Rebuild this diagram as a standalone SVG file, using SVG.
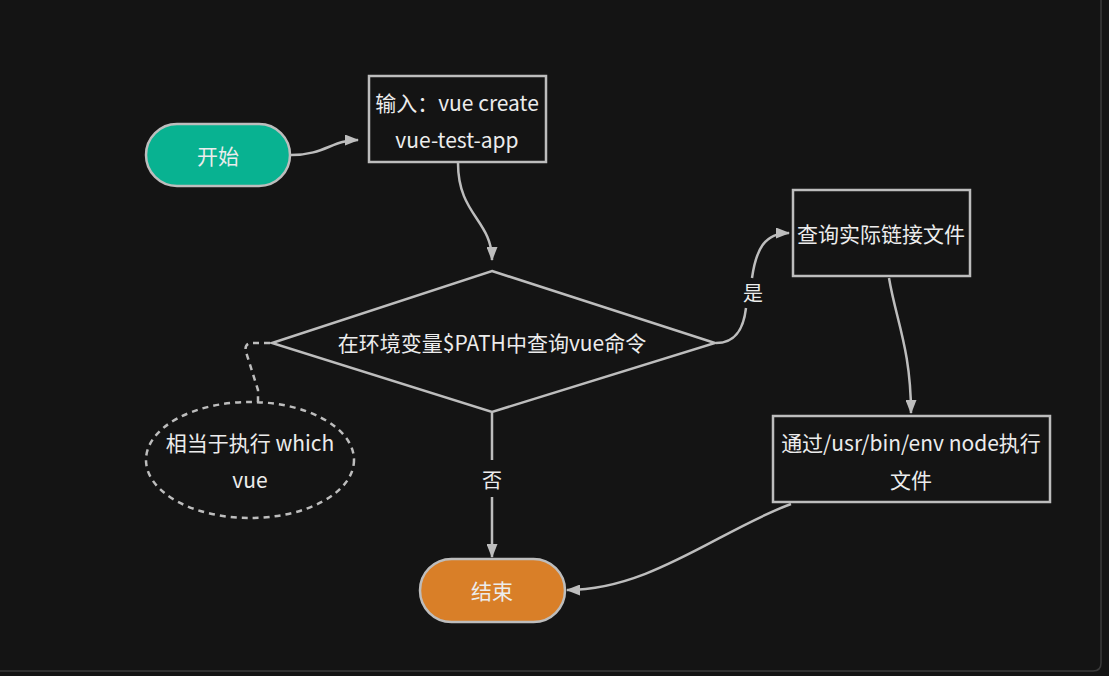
<svg xmlns="http://www.w3.org/2000/svg" width="1109" height="676" viewBox="0 0 1109 676">
<defs>
<style>
.bg{fill:#141414}
.frame{fill:none;stroke:#3a3a3a;stroke-width:1.5}
.box{fill:#141414;stroke:#bdbdbd;stroke-width:2.5}
.t{font-family:"Microsoft YaHei","Noto Sans CJK SC","Noto Sans",sans-serif;font-size:21px;fill:#ececec;text-anchor:middle;dominant-baseline:central}
.edge{fill:none;stroke:#bdbdbd;stroke-width:2.5}
.dash{fill:none;stroke:#bdbdbd;stroke-width:2.5;stroke-dasharray:6 5}
.lbl{font-family:"Microsoft YaHei","Noto Sans CJK SC","Noto Sans",sans-serif;font-size:20px;fill:#ececec;text-anchor:middle;dominant-baseline:central}
</style>
<marker id="arr" viewBox="0 0 14 11" refX="13" refY="5.5" markerWidth="14" markerHeight="11" markerUnits="userSpaceOnUse" orient="auto">
<path d="M0,0 L14,5.5 L0,11 Z" fill="#bdbdbd"/>
</marker>
</defs>
<rect class="bg" x="0" y="0" width="1109" height="676"/>
<path class="frame" d="M1101,0 V663 Q1101,671 1093,671 H0"/>

<g id="connectors">
<path class="edge" d="M291,155 C325,155 332,140 358,140" marker-end="url(#arr)"/>
<path class="edge" d="M458,163 C458,215 492,220 492,260" marker-end="url(#arr)"/>
<path class="edge" d="M716,343 C738,343 744,325 746,308"/>
<path class="edge" d="M752,278 C756,250 764,233 789,233" marker-end="url(#arr)"/>
<text class="lbl" x="753" y="292">是</text>
<path class="edge" d="M492,413 V460"/>
<path class="edge" d="M492,497 V557" marker-end="url(#arr)"/>
<text class="lbl" x="492" y="479">否</text>
<path class="edge" d="M889,278 C896,320 911,350 911,413" marker-end="url(#arr)"/>
<path class="edge" d="M791,504 C720,530 650,590 567,590" marker-end="url(#arr)"/>
<path class="dash" d="M270,343 H251 Q244,344 246,352 L258,390 V402"/>
</g>

<g id="start">
<rect x="146" y="124" width="144" height="62" rx="31" fill="#08b291" stroke="#bdbdbd" stroke-width="2.5"/>
<text class="t" x="218" y="155">开始</text>
</g>

<g id="input">
<rect class="box" x="369" y="76" width="177" height="86"/>
<text class="t" x="457" y="102">输入：vue create</text>
<text class="t" x="457" y="139">vue-test-app</text>
</g>

<g id="decision">
<polygon class="box" points="492,271 715,343 492,412 272,343"/>
<text class="t" x="492" y="342">在环境变量$PATH中查询vue命令</text>
</g>

<g id="note">
<ellipse cx="250" cy="460" rx="104" ry="58" fill="none" stroke="#bdbdbd" stroke-width="2.5" stroke-dasharray="6 5"/>
<text class="t" x="250" y="442">相当于执行 which</text>
<text class="t" x="250" y="479">vue</text>
</g>

<g id="query">
<rect class="box" x="793" y="190" width="177" height="86"/>
<text class="t" x="881" y="233">查询实际链接文件</text>
</g>

<g id="exec">
<rect class="box" x="773" y="416" width="277" height="86"/>
<text class="t" x="911" y="442">通过/usr/bin/env node执行</text>
<text class="t" x="911" y="479">文件</text>
</g>

<g id="end">
<rect x="420" y="559" width="145" height="63" rx="31.5" fill="#d97f28" stroke="#bdbdbd" stroke-width="2.5"/>
<text class="t" x="492" y="590">结束</text>
</g>
</svg>
